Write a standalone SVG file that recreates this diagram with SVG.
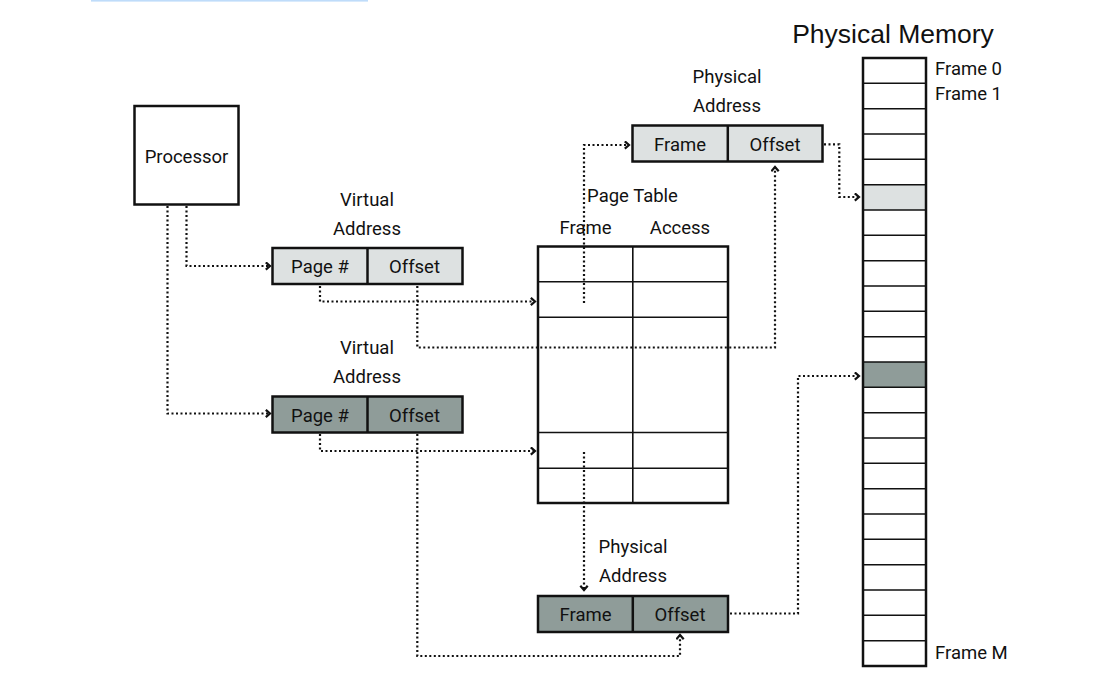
<svg xmlns="http://www.w3.org/2000/svg" width="1096" height="698" viewBox="0 0 1096 698">
<defs>
<style>
.lbl{font-family:Roboto,"Liberation Sans",sans-serif;font-size:18.5px;font-weight:400;fill:#111;text-anchor:middle}
.box{stroke:#111;stroke-width:2.5;}
.thin{stroke:#111;stroke-width:1.6;fill:none}
.conn path{fill:none;stroke:#111;stroke-width:2.2;stroke-dasharray:2 2.5;marker-end:url(#arr)}
.lg{fill:#dde1e1}
.dg{fill:#8f9c99}
</style>
<marker id="arr" markerUnits="userSpaceOnUse" markerWidth="10" markerHeight="12" refX="5" refY="4.5" orient="auto" viewBox="0 0 10 12">
<path d="M0.8,0.8 L5,4.5 L0.8,8.2" fill="none" stroke="#111" stroke-width="2.2" stroke-dasharray="none"/>
</marker>
</defs>
<rect width="1096" height="698" fill="#fff"/>
<rect x="91" y="0" width="277" height="1.6" fill="#bfdcfa"/>

<g id="processor">
<rect class="box" x="134.5" y="106" width="104" height="98.5" fill="#fff"/>
<text class="lbl" x="186.5" y="163">Processor</text>
</g>

<g id="virtual-address-1">
<text class="lbl" x="367" y="206">Virtual</text>
<text class="lbl" x="367" y="235">Address</text>
<rect class="box lg" x="272.5" y="248" width="190" height="36"/>
<line class="box" x1="367.5" y1="248" x2="367.5" y2="284"/>
<text class="lbl" x="320" y="273">Page #</text>
<text class="lbl" x="414.5" y="273">Offset</text>
</g>

<g id="virtual-address-2">
<text class="lbl" x="367" y="354">Virtual</text>
<text class="lbl" x="367" y="383">Address</text>
<rect class="box dg" x="272.5" y="396.5" width="190" height="36"/>
<line class="box" x1="367.5" y1="396.5" x2="367.5" y2="432.5"/>
<text class="lbl" x="320" y="421.5">Page #</text>
<text class="lbl" x="414.5" y="421.5">Offset</text>
</g>

<g id="page-table">
<text class="lbl" x="632.5" y="201.5">Page Table</text>
<text class="lbl" x="585.5" y="234">Frame</text>
<text class="lbl" x="680" y="234">Access</text>
<rect class="box" x="538" y="246.5" width="190" height="256.5" fill="#fff"/>
<path class="thin" d="M538,281.7 H728 M538,317.3 H728 M538,432.5 H728 M538,468.3 H728 M632.8,246.5 V503"/>
</g>

<g id="physical-address-1">
<text class="lbl" x="727" y="83">Physical</text>
<text class="lbl" x="727" y="111.5">Address</text>
<rect class="box lg" x="632.5" y="125.5" width="190" height="36"/>
<line class="box" x1="727.8" y1="125.5" x2="727.8" y2="161.5"/>
<text class="lbl" x="680" y="150.5">Frame</text>
<text class="lbl" x="775" y="150.5">Offset</text>
</g>

<g id="physical-address-2">
<text class="lbl" x="633" y="553">Physical</text>
<text class="lbl" x="633" y="582">Address</text>
<rect class="box dg" x="538" y="596" width="190" height="36"/>
<line class="box" x1="632.8" y1="596" x2="632.8" y2="632"/>
<text class="lbl" x="585.5" y="620.5">Frame</text>
<text class="lbl" x="680" y="620.5">Offset</text>
</g>

<g id="physical-memory">
<text x="893" y="43" font-family="'Liberation Sans',Arial,sans-serif" font-size="26.5px" fill="#111" text-anchor="middle">Physical Memory</text>
<rect x="863" y="184.7" width="63" height="25.3" class="lg"/>
<rect x="863" y="362" width="63" height="25.3" class="dg"/>
<path class="thin" d="M863,83.3 H926 M863,108.7 H926 M863,134 H926 M863,159.3 H926 M863,184.7 H926 M863,210 H926 M863,235.3 H926 M863,260.7 H926 M863,286 H926 M863,311.3 H926 M863,336.7 H926 M863,362 H926 M863,387.3 H926 M863,412.7 H926 M863,438 H926 M863,463.3 H926 M863,488.7 H926 M863,514 H926 M863,539.3 H926 M863,564.7 H926 M863,590 H926 M863,615.3 H926 M863,640.7 H926"/>
<rect class="box" x="863" y="58" width="63" height="608" fill="none"/>
<text class="lbl" x="935" y="74.5" style="text-anchor:start">Frame 0</text>
<text class="lbl" x="935" y="99.5" style="text-anchor:start">Frame 1</text>
<text class="lbl" x="935" y="658.5" style="text-anchor:start">Frame M</text>
</g>

<g id="connectors" class="conn">
<path d="M186.5,206 V266 H270"/>
<path d="M167.5,206 V413.5 H270"/>
<path d="M320,286 V301.5 H535"/>
<path d="M417.3,286 V347.5 H775 V167"/>
<path d="M584,303 V145 H629"/>
<path d="M824,144.3 H839.3 V197 H859"/>
<path d="M320,434 V451 H535"/>
<path d="M417.3,434 V656 H680 V635"/>
<path d="M584,452 V590"/>
<path d="M730,613.5 H798 V376 H859"/>
</g>
</svg>
